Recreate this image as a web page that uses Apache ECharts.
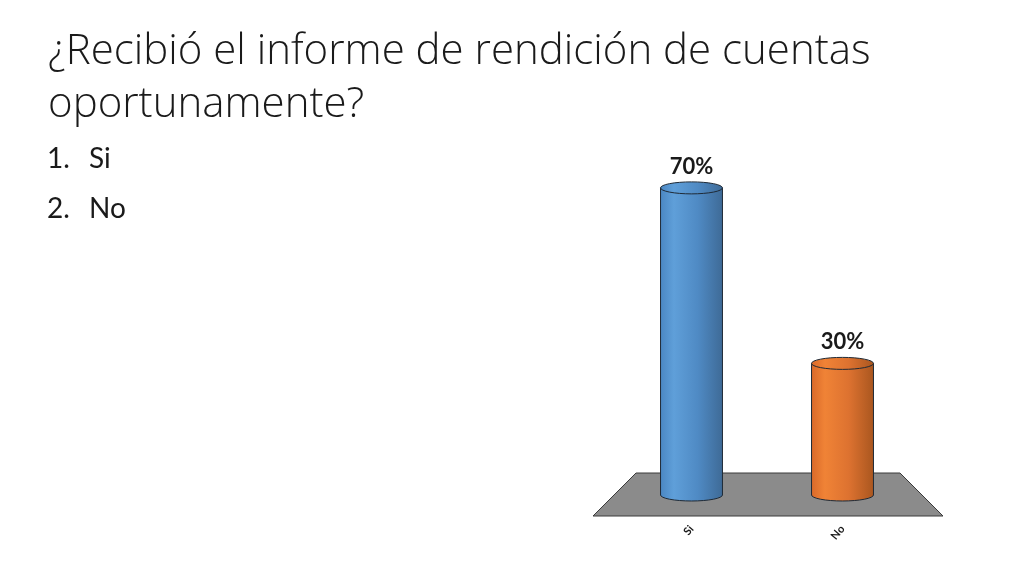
<!DOCTYPE html>
<html><head><meta charset="utf-8">
<script src="https://cdn.jsdelivr.net/npm/echarts@6/dist/echarts.min.js"></script>
<style>html,body{margin:0;padding:0;background:#fff}#c{width:1024px;height:576px}</style>
</head><body><div id="c"></div>
<script>
const categories = ['Si', 'No'];
const values = [70, 30];
const valueLabels = ['70%', '30%'];
const titleText = '¿Recibió el informe de rendición de cuentas\noportunamente?';
const listNumbers = ['1.', '2.'];
const listItems = ['Si', 'No'];

const palettes = [
  ['#4a86c2', '#5f9fd9', '#4f8ac4', '#3e6a96'],
  ['#d9692a', '#f08336', '#dd7230', '#a9561f']
];
function grad(p) {
  return new echarts.graphic.LinearGradient(0, 0, 1, 0, [
    {offset: 0, color: p[0]}, {offset: 0.22, color: p[1]},
    {offset: 0.6, color: p[2]}, {offset: 1, color: p[3]}
  ]);
}

const listGraphics = [];
listItems.forEach((t, i) => {
  listGraphics.push({type: 'text', x: 47, y: 145 + i * 50,
    style: {text: listNumbers[i], font: '400 28px Lato', fill: '#1a1a1a', verticalAlign: 'top'}});
  listGraphics.push({type: 'text', x: 89, y: 145 + i * 50,
    style: {text: t, font: '400 28px Lato', fill: '#1a1a1a', verticalAlign: 'top'}});
});

const chart = echarts.init(document.getElementById('c'));
chart.setOption({
  animation: false,
  title: {
    text: titleText, left: 43, top: 21,
    textStyle: {fontFamily: 'Open Sans', fontWeight: 300, fontSize: 42, lineHeight: 53, color: '#1a1a1a'}
  },
  graphic: listGraphics,
  grid: {left: 616, right: 106, top: 144, bottom: 81},
  xAxis: {
    type: 'category', data: categories,
    axisLine: {show: false}, axisTick: {show: false},
    axisLabel: {rotate: 50, margin: 32, fontSize: 11, fontWeight: 'bold', fontFamily: 'Lato', color: '#1a1a1a'}
  },
  yAxis: {type: 'value', min: 0, max: 80, show: false, splitLine: {show: false}},
  series: [
    {
      type: 'custom', z: 1, silent: true,
      data: [[0, 0]],
      renderItem: function (params, api) {
        const cs = params.coordSys;
        const zero = api.coord([0, 0])[1];
        const l = cs.x, r = cs.x + cs.width;
        return {
          type: 'polygon',
          shape: {points: [[l + 20, zero - 22], [r - 18, zero - 22], [r + 25, zero + 21], [l - 23, zero + 21]]},
          style: {fill: '#8b8b8b', stroke: '#3a3a3a', lineWidth: 1}
        };
      }
    },
    {
      type: 'custom', z: 2,
      data: values.map((v, i) => [i, v]),
      renderItem: function (params, api) {
        const i = api.value(0), v = api.value(1);
        const top = api.coord([i, v]);
        const base = api.coord([i, 0]);
        const bw = api.size([1, 0])[0] * 0.41;
        const rx = bw / 2, ry = 6;
        const L = top[0] - rx, R = top[0] + rx, T = top[1], B = base[1];
        const p = palettes[params.dataIndex];
        const body = 'M' + L + ' ' + T + ' L' + L + ' ' + B +
          ' A' + rx + ' ' + ry + ' 0 0 0 ' + R + ' ' + B +
          ' L' + R + ' ' + T + ' Z';
        const cap = 'M' + L + ' ' + T + ' A' + rx + ' ' + ry + ' 0 0 1 ' + R + ' ' + T +
          ' A' + rx + ' ' + ry + ' 0 0 1 ' + L + ' ' + T + ' Z';
        return {
          type: 'group',
          children: [
            {type: 'path', shape: {pathData: body}, style: {fill: grad(p), stroke: '#1f2a36', lineWidth: 1}},
            {type: 'path', shape: {pathData: cap}, style: {fill: grad(p), stroke: '#1f2a36', lineWidth: 1}},
            {type: 'text', x: top[0], y: T - ry - 4,
             style: {text: valueLabels[params.dataIndex], font: 'bold 22px Lato', fill: '#1a1a1a',
                     align: 'center', verticalAlign: 'bottom'}}
          ]
        };
      }
    }
  ]
});
</script>
</body></html>
